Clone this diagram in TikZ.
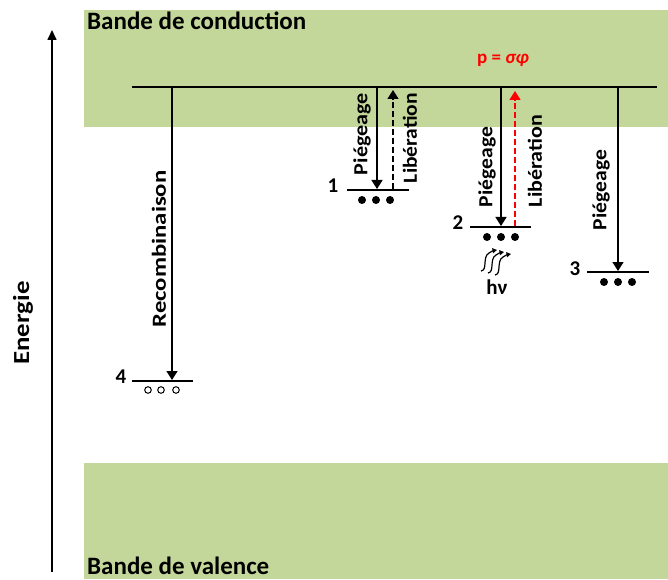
\documentclass[tikz,border=0pt]{standalone}
\usepackage{graphicx}
\usepackage{fontspec}
\setmainfont{Carlito}
\usetikzlibrary{arrows.meta}
\definecolor{bandgreen}{RGB}{196,215,155}
\newcommand\stretched[2]{\resizebox{#1}{\height}{#2}}

\begin{document}
\begin{tikzpicture}[x=1pt,y=1pt,inner sep=0pt,
  font=\bfseries\fontsize{20}{22}\selectfont,
  lbl/.style={rotate=90},
  num/.style={font=\bfseries\fontsize{21}{23}\selectfont},
  trap/.style={line width=1.5pt,-{Triangle[length=9pt,width=11pt]}},
  free/.style={trap,dash pattern=on 6pt off 3pt},
  lvl/.style={line width=1.8pt}]
\useasboundingbox (0,0) rectangle (668,579);
% bandes
\fill[bandgreen] (84,452) rectangle (668,569);
\fill[bandgreen] (84,0) rectangle (668,116);
\node[anchor=base west,font=\bfseries\fontsize{25}{28}\selectfont] (bc) at (87,549) {Bande de conduction};
\node[anchor=base west,font=\bfseries\fontsize{25}{28}\selectfont] (bv) at (87,5) {Bande de valence};

% axe
\coordinate (e0) at (52,7);
\coordinate (e1) at (52,549);
\draw[line width=1.6pt,-{Triangle[length=10pt,width=9pt]}] (e0) -- (e1);
\node[lbl,font=\bfseries\fontsize{23}{25}\selectfont] (en) at (23,256) {\stretched{83pt}{Energie}};

% niveau de piegeage
\coordinate (m0) at (132,492);
\coordinate (m1) at (657,492);
\draw[line width=2.2pt] (m0) -- (m1);
\node[red,font=\bfseries\fontsize{19}{21}\selectfont] (p) at (503,519) {p = \textit{σφ}};

% niveaux
\node[num] (n1) at (333,393) {1};
\node[num] (n2) at (458,356) {2};
\node[num] (n3) at (575,310) {3};
\node[num] (n4) at (121,202) {4};
\coordinate (l1a) at (347,389); \coordinate (l1b) at (409,389);
\coordinate (l2a) at (470,352); \coordinate (l2b) at (531,352);
\coordinate (l3a) at (587,307); \coordinate (l3b) at (649,307);
\coordinate (l4a) at (132,198); \coordinate (l4b) at (193,198);
\foreach \a/\b in {l1a/l1b,l2a/l2b,l3a/l3b,l4a/l4b}
  \draw[lvl] (\a) -- (\b);
\foreach \x in {362,376,390} \fill (\x,379) circle (4);
\foreach \x in {487,501,515} \fill (\x,342) circle (4);
\foreach \x in {604,618,632} \fill (\x,297) circle (4);
\foreach \x in {148,161,176} \draw[line width=1pt] (\x,189) circle (3.3);

% transitions
\coordinate (t1) at (377,492); \coordinate (b1) at (377,390);
\coordinate (t2) at (501,492); \coordinate (b2) at (501,353);
\coordinate (t3) at (618,492); \coordinate (b3) at (618,308);
\coordinate (t4) at (172,492); \coordinate (b4) at (172,199);
\coordinate (u1) at (393,390); \coordinate (v1) at (393,489);
\coordinate (u2) at (515,353); \coordinate (v2) at (515,488);
\draw[trap] (t1) -- (b1);
\draw[trap] (t2) -- (b2);
\draw[trap] (t3) -- (b3);
\draw[trap] (t4) -- (b4);
\draw[free] (u1) -- (v1);
\draw[free,red] (u2) -- (v2);
\node[lbl] (r4) at (159,330) {\stretched{157pt}{Recombinaison}};
\node[lbl] (p1) at (362,445) {\stretched{82pt}{Piégeage}};
\node[lbl] (q1) at (410,441) {\stretched{90pt}{Libération}};
\node[lbl] (p2) at (487,412) {\stretched{80pt}{Piégeage}};
\node[lbl] (q2) at (535,418) {\stretched{92pt}{Libération}};
\node[lbl] (p3) at (601,389) {\stretched{80pt}{Piégeage}};

% photons
\foreach \x/\y in {481/308,488/306,495/304}
  \draw[line width=1.2pt,-{Triangle[length=4.5pt,width=5pt]}]
    (\x,\y) .. controls (\x+7,\y+1) and (\x+1,\y+14) .. (\x+8,\y+18)
    .. controls (\x+10,\y+20) .. (\x+16,\y+21);
\node[font=\bfseries\fontsize{21}{23}\selectfont] (hv) at (497,292) {hν};
\end{tikzpicture}
\end{document}
